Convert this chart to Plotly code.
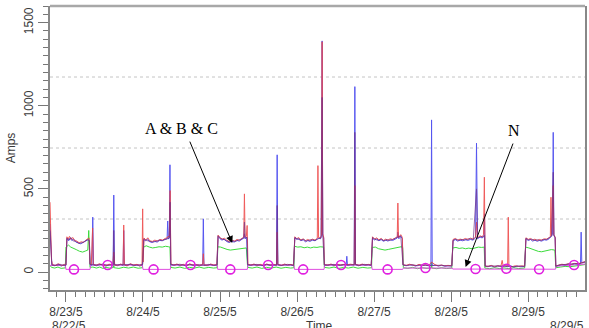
import pandas as pd
import plotly.graph_objects as go

# Hours are counted from 2005-08-23 00:00; values are amps.
START = pd.Timestamp("2005-08-23 00:00")

phase_a = [  # blue
    (-4.97, 290), (-4.7, 120), (-4.4, 45), (-3.5, 38), (-2.5, 48), (-1.5, 36), (-0.6, 44), (0.0, 40),
    (0.3, 200), (0.8, 188), (1.3, 205), (1.8, 190), (2.4, 198), (3.0, 182), (3.8, 178), (4.5, 170),
    (5.2, 176), (5.9, 182), (6.5, 190), (7.0, 196), (7.3, 188), (7.5, 45),
    (8.1, 40), (8.35, 330), (8.6, 42), (9.5, 38), (10.5, 47), (11.5, 40), (12.5, 36), (13.5, 45),
    (14.7, 42), (14.9, 463), (15.1, 44), (16.0, 38), (17.0, 46), (17.8, 40), (18.0, 250), (18.2, 42),
    (19.0, 37), (20.0, 48), (21.0, 40), (22.0, 44), (23.0, 36), (23.8, 42),
    (24.2, 196), (24.8, 188), (25.4, 200), (26.0, 183), (26.8, 178), (27.6, 185), (28.4, 180),
    (29.2, 190), (30.0, 188), (30.8, 196), (31.5, 200), (31.7, 307), (31.9, 198), (32.2, 205),
    (32.4, 645), (32.6, 45),
    (33.5, 40), (34.5, 46), (35.5, 38), (36.5, 44), (37.5, 36), (38.5, 47), (39.5, 40), (40.5, 43),
    (41.5, 37), (42.6, 44), (42.8, 320), (43.0, 42), (44.0, 38), (45.0, 46), (46.0, 40), (47.0, 42),
    (47.4, 215), (48.0, 200), (48.6, 192), (49.3, 198), (50.0, 184), (50.8, 178), (51.6, 186),
    (52.4, 180), (53.2, 190), (54.0, 186), (54.8, 198), (55.4, 205), (55.6, 230), (55.8, 200),
    (56.3, 210), (56.6, 44),
    (57.5, 40), (58.5, 46), (59.5, 38), (60.5, 44), (61.5, 37), (62.5, 46), (63.5, 40), (64.5, 44),
    (65.6, 40), (65.8, 705), (66.0, 44), (67.0, 38), (68.0, 46), (69.0, 40), (70.0, 44), (70.9, 38),
    (71.3, 205), (71.9, 196), (72.5, 202), (73.2, 188), (73.9, 194), (74.6, 182), (75.3, 190),
    (76.0, 184), (76.8, 192), (77.6, 188), (78.3, 198), (78.8, 205), (79.3, 200), (79.6, 215),
    (79.8, 1390), (80.0, 220), (80.3, 205), (80.5, 42),
    (81.5, 40), (82.5, 46), (83.5, 38), (84.5, 45), (85.5, 40), (86.5, 44), (87.3, 42), (87.5, 95),
    (87.7, 40), (88.7, 45), (89.8, 42), (90.0, 1115), (90.2, 44), (91.2, 38), (92.2, 46), (93.2, 40),
    (94.2, 44), (95.1, 40),
    (95.5, 205), (96.1, 192), (96.8, 200), (97.5, 188), (98.2, 195), (98.9, 185), (99.6, 192),
    (100.3, 186), (101.0, 194), (101.8, 190), (102.6, 198), (103.2, 205), (103.4, 240), (103.7, 200),
    (104.3, 215), (104.8, 200), (105.0, 42),
    (106.0, 38), (107.0, 45), (108.0, 40), (109.0, 36), (110.0, 44), (111.0, 38), (112.0, 42),
    (113.0, 37), (113.7, 40), (113.9, 915), (114.1, 38), (115.0, 42), (116.0, 36), (117.0, 40),
    (118.0, 35), (119.0, 38), (120.2, 36),
    (120.6, 188), (121.3, 195), (122.0, 186), (122.8, 192), (123.6, 188), (124.4, 195), (125.2, 190),
    (126.0, 196), (126.8, 192), (127.6, 205), (127.9, 775), (128.2, 200), (129.0, 210), (129.7, 205),
    (130.2, 215), (130.4, 350), (130.6, 35),
    (131.5, 32), (132.5, 38), (133.5, 30), (134.5, 36), (135.5, 33), (136.5, 38), (137.5, 32),
    (138.5, 37), (139.5, 30), (140.5, 36), (141.5, 32), (142.5, 35), (142.9, 33),
    (143.3, 200), (144.0, 190), (144.7, 196), (145.4, 186), (146.1, 192), (146.8, 185), (147.5, 190),
    (148.2, 186), (149.0, 194), (149.8, 192), (150.5, 200), (151.0, 210), (151.6, 225), (151.8, 840),
    (152.0, 220), (152.4, 205), (152.6, 35),
    (153.5, 40), (154.5, 45), (155.5, 42), (156.5, 48), (157.5, 45), (158.5, 50), (159.5, 48),
    (160.3, 52), (160.5, 240), (160.7, 55), (161.2, 58), (161.7, 60),
]

phase_b = [  # red
    (-4.97, 420), (-4.75, 300), (-4.5, 70), (-4.2, 44), (-3.3, 40), (-2.3, 50), (-1.3, 38), (-0.5, 46),
    (0.0, 42),
    (0.3, 212), (0.7, 198), (1.1, 215), (1.6, 196), (2.1, 208), (2.7, 190), (3.4, 186), (4.1, 176),
    (4.8, 182), (5.5, 178), (6.2, 192), (6.8, 200), (7.2, 205), (7.5, 48),
    (7.9, 44), (8.3, 265), (8.5, 46), (9.4, 40), (10.4, 50), (11.4, 42), (12.4, 38), (13.4, 47),
    (14.6, 44), (14.9, 120), (15.2, 42), (16.1, 40), (17.1, 48), (17.8, 42), (18.0, 283), (18.2, 44),
    (19.1, 38), (20.1, 50), (21.1, 42), (22.1, 46), (23.0, 38), (23.7, 44), (23.9, 380), (24.05, 60),
    (24.3, 205), (24.9, 192), (25.5, 206), (26.1, 188), (26.9, 184), (27.7, 192), (28.5, 186),
    (29.3, 196), (30.1, 192), (30.9, 202), (31.6, 206), (31.8, 215), (32.2, 210), (32.45, 490),
    (32.7, 48),
    (33.6, 42), (34.6, 48), (35.6, 40), (36.6, 46), (37.6, 38), (38.6, 49), (39.6, 42), (40.6, 45),
    (41.6, 39), (42.6, 46), (42.8, 110), (43.0, 44), (44.1, 40), (45.1, 48), (46.1, 42), (47.0, 44),
    (47.4, 222), (48.0, 206), (48.7, 198), (49.4, 204), (50.1, 190), (50.9, 184), (51.7, 192),
    (52.5, 186), (53.3, 196), (54.1, 190), (54.9, 204), (55.4, 212), (55.6, 470), (55.8, 210),
    (56.2, 215), (56.45, 280), (56.7, 46),
    (57.6, 42), (58.6, 48), (59.6, 40), (60.6, 46), (61.6, 39), (62.6, 48), (63.6, 42), (64.6, 46),
    (65.6, 42), (65.8, 240), (66.0, 46), (67.1, 40), (68.1, 48), (69.1, 42), (70.1, 46), (70.9, 40),
    (71.3, 212), (71.9, 200), (72.5, 208), (73.2, 192), (73.9, 200), (74.6, 188), (75.3, 196),
    (76.0, 190), (76.8, 198), (77.6, 192), (78.3, 204), (78.5, 640), (78.7, 208), (79.3, 205),
    (79.6, 220), (79.8, 1385), (80.0, 230), (80.3, 210), (80.5, 44),
    (81.6, 42), (82.6, 48), (83.6, 40), (84.6, 47), (85.6, 42), (86.6, 46), (87.6, 44), (88.6, 47),
    (89.8, 44), (90.0, 520), (90.2, 46), (91.3, 40), (92.3, 48), (93.3, 42), (94.3, 46), (95.1, 42),
    (95.5, 212), (96.1, 198), (96.8, 206), (97.5, 194), (98.2, 202), (98.9, 190), (99.6, 198),
    (100.3, 192), (101.0, 200), (101.8, 196), (102.6, 205), (103.2, 212), (103.4, 415), (103.6, 206),
    (104.3, 225), (104.8, 208), (105.0, 44),
    (106.0, 40), (107.0, 47), (108.0, 42), (109.0, 38), (110.0, 46), (111.0, 40), (112.0, 44),
    (113.0, 39), (113.9, 60), (115.0, 44), (116.0, 38), (117.0, 42), (118.0, 37), (119.0, 40),
    (120.2, 38),
    (120.6, 196), (121.3, 202), (122.0, 192), (122.8, 198), (123.6, 194), (124.4, 202), (125.2, 196),
    (126.0, 204), (126.8, 198), (127.6, 210), (127.9, 300), (128.2, 206), (129.0, 218), (129.7, 212),
    (130.1, 225), (130.35, 570), (130.6, 36),
    (131.5, 34), (132.5, 40), (133.5, 32), (134.5, 38), (135.5, 35), (135.9, 70), (136.2, 36),
    (137.0, 40), (137.6, 35), (137.8, 330), (138.0, 36), (139.0, 32), (140.0, 38), (141.0, 34),
    (142.0, 37), (142.9, 35),
    (143.3, 206), (144.0, 196), (144.7, 202), (145.4, 192), (146.1, 198), (146.8, 190), (147.5, 196),
    (148.2, 192), (149.0, 200), (149.8, 198), (150.5, 206), (150.9, 215), (151.1, 450), (151.3, 220),
    (151.8, 520), (152.0, 225), (152.4, 210), (152.6, 36),
    (153.5, 42), (154.5, 47), (155.5, 44), (156.5, 50), (157.5, 46), (158.5, 52), (159.5, 50),
    (160.5, 55), (161.2, 60), (161.7, 62),
]

phase_c = [  # purple
    (-4.97, 250), (-4.7, 100), (-4.4, 42), (-3.0, 40), (-1.8, 46), (-0.6, 40), (0.0, 42),
    (0.3, 205), (1.0, 192), (1.5, 208), (2.2, 188), (3.0, 184), (4.0, 172), (5.0, 176), (6.0, 186),
    (6.7, 194), (7.3, 190), (7.5, 46),
    (8.6, 44), (10.0, 42), (11.5, 48), (13.0, 40), (14.7, 44), (14.9, 250), (15.1, 44), (16.5, 42),
    (18.2, 44), (20.0, 46), (21.5, 40), (23.0, 44), (23.9, 46),
    (24.3, 200), (25.0, 190), (26.0, 186), (27.0, 180), (28.0, 184), (29.0, 192), (30.0, 190),
    (31.0, 198), (32.2, 204), (32.45, 420), (32.7, 46),
    (34.0, 42), (35.5, 47), (37.0, 39), (38.5, 46), (40.0, 41), (41.5, 44), (43.0, 40), (44.5, 46),
    (46.0, 40), (47.1, 43),
    (47.4, 218), (48.3, 200), (49.2, 196), (50.1, 186), (51.0, 180), (51.9, 188), (52.8, 184),
    (53.7, 192), (54.6, 196), (55.4, 204), (55.6, 300), (55.8, 204), (56.4, 210), (56.6, 44),
    (58.0, 42), (59.5, 46), (61.0, 39), (62.5, 46), (64.0, 41), (65.6, 43), (65.8, 400), (66.0, 44),
    (67.5, 40), (69.0, 46), (70.9, 40),
    (71.3, 208), (72.2, 198), (73.1, 192), (74.0, 196), (74.9, 186), (75.8, 192), (76.7, 194),
    (77.6, 190), (78.5, 200), (79.4, 204), (79.8, 1050), (80.0, 222), (80.5, 43),
    (82.0, 42), (83.5, 46), (85.0, 40), (86.5, 45), (88.0, 42), (89.8, 44), (90.0, 840), (90.2, 45),
    (91.5, 40), (93.0, 46), (95.1, 41),
    (95.5, 208), (96.4, 196), (97.3, 190), (98.2, 198), (99.1, 188), (100.0, 194), (100.9, 190),
    (101.8, 196), (102.7, 202), (103.4, 210), (104.3, 218), (105.0, 43),
    (106.5, 39), (108.0, 44), (109.5, 38), (111.0, 43), (112.5, 40), (113.9, 42), (115.5, 40),
    (117.0, 41), (118.5, 37), (120.2, 37),
    (120.6, 192), (121.5, 198), (122.4, 190), (123.3, 196), (124.2, 192), (125.1, 198), (126.0, 200),
    (126.9, 196), (127.9, 500), (128.2, 204), (129.1, 214), (130.0, 210), (130.4, 220), (130.6, 35),
    (132.0, 36), (133.5, 33), (135.0, 37), (136.5, 34), (138.0, 36), (139.5, 32), (141.0, 36),
    (142.9, 34),
    (143.3, 203), (144.2, 193), (145.1, 198), (146.0, 190), (146.9, 194), (147.8, 189), (148.7, 196),
    (149.6, 195), (150.5, 203), (151.3, 215), (151.8, 600), (152.0, 222), (152.4, 208), (152.6, 36),
    (154.0, 43), (155.5, 46), (157.0, 45), (158.5, 51), (160.0, 50), (161.7, 61),
]

phase_g = [  # green
    (-4.97, 40), (-4.5, 28), (-3.5, 24), (-2.5, 30), (-1.5, 22), (-0.5, 27), (-0.2, 25),
    (0.0, 150), (0.8, 162), (1.5, 150), (2.3, 145), (3.2, 135), (4.2, 125), (5.2, 120), (6.0, 126),
    (6.8, 132), (7.1, 250), (7.3, 135), (7.5, 28),
    (8.4, 30), (9.5, 24), (10.5, 30), (11.5, 22), (12.5, 28), (13.5, 24), (14.8, 27), (14.9, 100),
    (15.0, 26), (16.5, 22), (18.0, 29), (19.5, 24), (21.0, 30), (22.5, 23), (23.8, 26),
    (24.1, 148), (25.0, 158), (26.0, 150), (27.0, 145), (28.0, 148), (29.0, 152), (30.0, 150),
    (31.0, 155), (32.0, 152), (32.4, 150), (32.6, 28),
    (34.0, 24), (35.5, 30), (37.0, 22), (38.5, 28), (40.0, 24), (41.5, 30), (43.0, 23), (44.5, 28),
    (46.0, 24), (47.1, 26),
    (47.3, 152), (48.2, 150), (49.2, 142), (50.2, 136), (51.2, 132), (52.2, 135), (53.2, 138),
    (54.2, 140), (55.2, 146), (56.2, 145), (56.6, 28),
    (58.0, 24), (59.5, 30), (61.0, 22), (62.5, 28), (64.0, 24), (65.5, 30), (67.0, 23), (68.5, 28),
    (70.0, 24), (71.0, 26),
    (71.2, 155), (72.2, 150), (73.2, 152), (74.2, 146), (75.2, 150), (76.2, 145), (77.2, 150),
    (78.2, 148), (79.2, 152), (80.3, 150), (80.5, 28),
    (82.0, 24), (83.5, 30), (85.0, 22), (86.5, 28), (88.0, 24), (89.5, 30), (91.0, 23), (92.5, 28),
    (94.0, 24), (95.2, 26),
    (95.4, 148), (96.4, 150), (97.4, 140), (98.4, 135), (99.4, 132), (100.4, 136), (101.4, 140),
    (102.4, 145), (103.4, 150), (104.4, 152), (104.9, 148), (105.1, 26),
    (106.5, 22), (108.0, 28), (109.5, 20), (111.0, 26), (112.5, 22), (113.8, 25), (113.9, 60),
    (114.0, 24), (115.5, 20), (117.0, 26), (118.5, 21), (120.2, 24),
    (120.5, 145), (121.5, 148), (122.5, 142), (123.5, 145), (124.5, 140), (125.5, 144), (126.5, 140),
    (127.5, 146), (128.5, 150), (129.5, 148), (130.3, 150), (130.5, 24),
    (132.0, 20), (133.5, 26), (135.0, 21), (136.5, 25), (138.0, 20), (139.5, 26), (141.0, 21),
    (142.9, 24),
    (143.2, 150), (144.2, 145), (145.2, 138), (146.2, 130), (147.2, 124), (148.2, 122), (149.2, 126),
    (150.2, 128), (151.2, 135), (152.3, 132), (152.6, 26),
    (154.0, 30), (155.5, 34), (157.0, 32), (158.5, 38), (160.0, 40), (161.7, 45),
]

phase_n = [  # neutral
    (-4.97, 40), (-0.2, 40), (0.0, 16), (7.5, 16), (7.7, 42), (23.8, 42), (24.0, 16), (32.5, 16),
    (32.7, 42), (47.1, 42), (47.3, 16), (56.5, 16), (56.7, 42), (71.0, 42), (71.2, 16), (80.4, 16),
    (80.6, 42), (95.2, 42), (95.4, 16), (104.9, 16), (105.1, 24), (120.3, 24), (120.5, 18),
    (130.3, 18), (130.5, 20), (142.9, 20), (143.1, 17), (152.5, 17), (152.7, 35), (158.3, 42),
    (161.7, 48),
]

n_marker_hours = [2.5, 13.0, 27.3, 38.8, 51.2, 63.0, 73.9, 85.7, 100.2, 112.0, 127.6, 137.2, 147.4, 158.3]
n_marker_amps = [16, 42, 16, 42, 16, 42, 16, 42, 16, 24, 18, 20, 17, 42]

day_ticks = ["2005-08-23", "2005-08-24", "2005-08-25", "2005-08-26",
             "2005-08-27", "2005-08-28", "2005-08-29"]
day_labels = ["8/23/5", "8/24/5", "8/25/5", "8/26/5", "8/27/5", "8/28/5", "8/29/5"]
amp_ticks = [0, 500, 1000, 1500]
range_hours = [-4.97, 161.7]
range_labels = ["8/22/5", "8/29/5"]


def to_time(hours):
    return START + pd.to_timedelta(hours, unit="h")


def unzip(pairs):
    h = [p[0] for p in pairs]
    v = [p[1] for p in pairs]
    return to_time(h), v


fig = go.Figure()

series = [
    (phase_g, "#3cdc3c", 1.0),
    (phase_n, "#e04ce0", 1.0),
    (phase_a, "#5656f0", 1.0),
    (phase_b, "#ee4040", 0.85),
    (phase_c, "#6a2a86", 0.7),
]
for pairs, color, op in series:
    t, v = unzip(pairs)
    fig.add_trace(go.Scatter(x=t, y=v, mode="lines", opacity=op,
                             line=dict(color=color, width=1), hoverinfo="skip"))

fig.add_trace(go.Scatter(
    x=to_time(n_marker_hours), y=n_marker_amps, mode="markers",
    marker=dict(symbol="circle-open", size=9, color="#e020e0", line=dict(width=1.6)),
    hoverinfo="skip"))

axis_font = dict(family="Liberation Sans, Arial", size=12, color="#3a3a3a")

fig.update_layout(
    width=589, height=328,
    margin=dict(l=50, r=2, t=6, b=38),
    paper_bgcolor="white", plot_bgcolor="white",
    showlegend=False,
    font=axis_font,
    xaxis=dict(
        type="date",
        range=[to_time(range_hours[0]), to_time(range_hours[1])],
        tickmode="array", tickvals=day_ticks, ticktext=day_labels,
        ticks="outside", ticklen=10, tickwidth=1, tickcolor="#777",
        minor=dict(tickmode="linear", tick0="2005-08-22", dtick=3 * 3600 * 1000,
                   ticks="outside", ticklen=5, tickcolor="#777", showgrid=False),
        showline=True, linecolor="#888", linewidth=1.5,
        showgrid=False, zeroline=False, tickfont=axis_font,
    ),
    yaxis=dict(
        range=[-108, 1600],
        tickmode="array", tickvals=amp_ticks, ticktext=[str(v) for v in amp_ticks],
        tickangle=-90,
        ticks="outside", ticklen=10, tickwidth=1, tickcolor="#777",
        minor=dict(dtick=50, ticks="outside", ticklen=5, tickcolor="#777", showgrid=False),
        showline=True, linecolor="#888", linewidth=1.5, mirror=True,
        showgrid=False, zeroline=False, tickfont=axis_font,
        title=dict(text="Amps", font=axis_font, standoff=4),
    ),
)

# dotted guide lines across the plot and the heavier top border
for frac in (0.25, 0.5, 0.75):
    fig.add_shape(type="line", xref="paper", yref="paper", x0=0, x1=1, y0=frac, y1=frac,
                  line=dict(color="#c4c4c4", width=1, dash="dot"), layer="below")
fig.add_shape(type="line", xref="paper", yref="paper", x0=0, x1=1, y0=1, y1=1,
              line=dict(color="#a8a8a8", width=2.5))

label_font = dict(family="Liberation Serif, Times New Roman", size=16, color="black")
fig.add_annotation(text="A &amp; B &amp; C", xref="paper", yref="paper", x=0.246, y=0.569,
                   xanchor="center", yanchor="middle", showarrow=False, font=label_font)
fig.add_annotation(text="N", xref="paper", yref="paper", x=0.868, y=0.562,
                   xanchor="center", yanchor="middle", showarrow=False, font=label_font)

# arrows pointing from the labels to the traces
fig.add_annotation(text="", x=to_time(51.8), y=174, ax=-43, ay=-103,
                   showarrow=True, arrowhead=2, arrowsize=1.4, arrowwidth=1, arrowcolor="black")
fig.add_annotation(text="", x=to_time(124.5), y=30, ax=48, ay=-125,
                   showarrow=True, arrowhead=2, arrowsize=1.4, arrowwidth=1, arrowcolor="black")

# axis title and start/end stamps under the tick labels
fig.add_annotation(text="Time", xref="paper", yref="paper", x=0.503, y=-0.095,
                   xanchor="center", yanchor="top", showarrow=False, font=axis_font)
fig.add_annotation(text=range_labels[0], xref="paper", yref="paper", x=0, y=-0.095,
                   xanchor="left", yanchor="top", showarrow=False, font=axis_font)
fig.add_annotation(text=range_labels[1], xref="paper", yref="paper", x=1.002, y=-0.095,
                   xanchor="right", yanchor="top", showarrow=False, font=axis_font)

fig.write_html("out.html")
